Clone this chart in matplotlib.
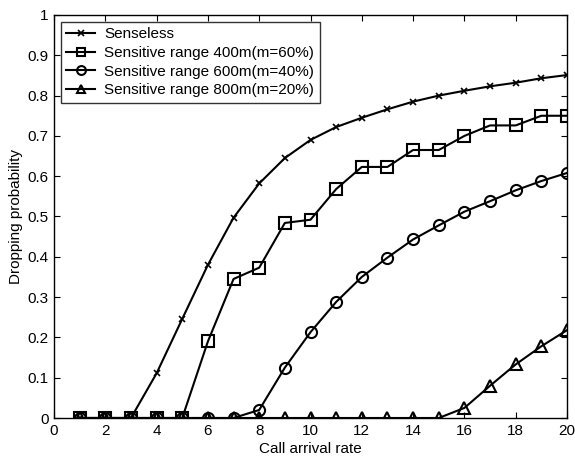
import matplotlib
matplotlib.use("Agg")
import matplotlib.pyplot as plt

plt.rcParams['font.family'] = ['Liberation Sans', 'DejaVu Sans']

x = list(range(1, 21))
senseless = [0, 0, 0, 0.111, 0.246, 0.38, 0.497, 0.582, 0.645, 0.69, 0.722, 0.745,
             0.766, 0.785, 0.80, 0.812, 0.823, 0.832, 0.843, 0.851]
r400 = [0, 0, 0, 0, 0, 0.19, 0.345, 0.373, 0.484, 0.492, 0.568, 0.623, 0.623,
        0.665, 0.665, 0.70, 0.726, 0.726, 0.75, 0.75]
r600 = [0, 0, 0, 0, 0, 0, 0, 0.02, 0.125, 0.213, 0.288, 0.35, 0.398, 0.443,
        0.478, 0.512, 0.538, 0.565, 0.588, 0.608]
r800 = [0, 0, 0, 0, 0, 0, 0, 0, 0, 0, 0, 0, 0, 0, 0, 0.025, 0.08, 0.133, 0.178, 0.218]

labels = ['Senseless', 'Sensitive range 400m(m=60%)',
          'Sensitive range 600m(m=40%)', 'Sensitive range 800m(m=20%)']

fig = plt.figure(figsize=(5.75, 4.61), dpi=100)
ax = fig.add_axes([54/575, 1-418/461, (567-54)/575, (418-15)/461])

ax.plot(x, senseless, color='k', lw=1.5, marker='x', ms=5, mew=1.2, label=labels[0])
ax.plot(x, r400, color='k', lw=1.5, marker='s', ms=8, mfc='none', mew=1.5, label=labels[1])
ax.plot(x, r600, color='k', lw=1.5, marker='o', ms=8, mfc='none', mew=1.5, label=labels[2])
ax.plot(x, r800, color='k', lw=1.5, marker='^', ms=8, mfc='none', mew=1.5, label=labels[3])

ax.set_xlim(0, 20)
ax.set_ylim(0, 1)
ax.set_xticks(range(0, 21, 2))
ax.set_yticks([i/10 for i in range(11)])
ax.set_yticklabels(['0', '0.1', '0.2', '0.3', '0.4', '0.5', '0.6', '0.7', '0.8', '0.9', '1'])
ax.tick_params(direction='in', top=True, right=True, labelsize=11, length=4, pad=4)
for s in ax.spines.values():
    s.set_linewidth(1.0)
ax.set_xlabel('Call arrival rate', fontsize=11, labelpad=3)
ax.set_ylabel('Dropping probability', fontsize=11, labelpad=3)

leg = ax.legend(loc='upper left', fontsize=11, frameon=True, fancybox=False,
                edgecolor='k', borderaxespad=0.45, handlelength=1.9,
                labelspacing=0.31, borderpad=0.35, handletextpad=0.6,
                markerscale=0.8)
leg.get_frame().set_linewidth(1.0)

fig.savefig('out.png', dpi=100)
